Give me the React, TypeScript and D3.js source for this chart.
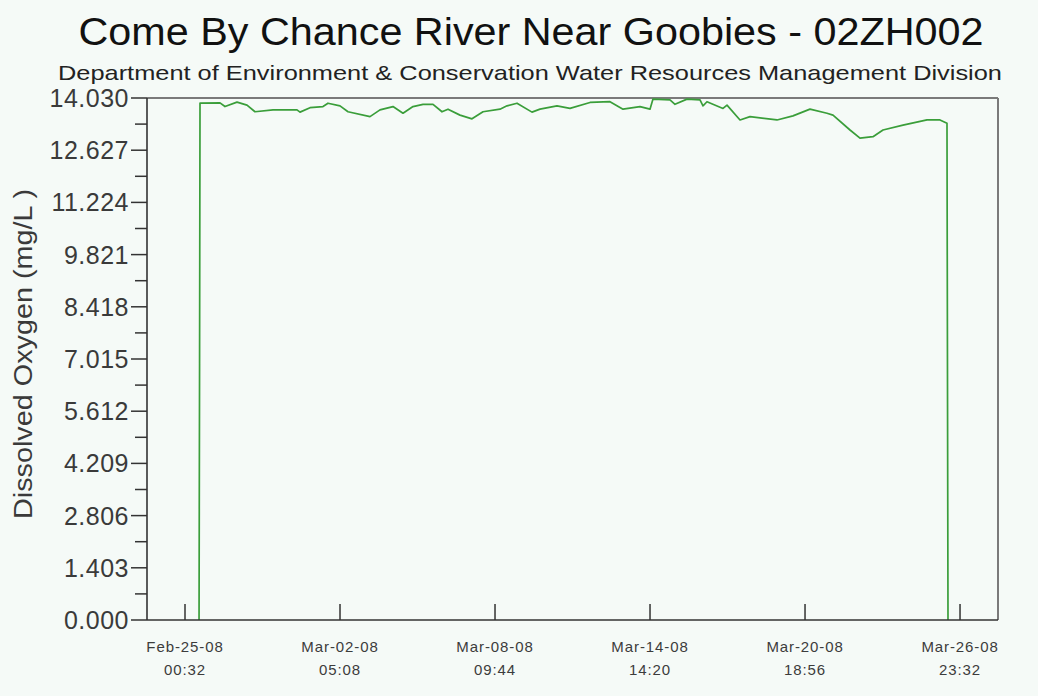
import React from "react";
import * as d3 from "d3";

// Station 02ZH002 dissolved oxygen record (mg/L)
const sampleTimes: string[] = [
  "2008-02-25T14:00", "2008-02-25T14:30", "2008-02-25T14:55", "2008-02-26T10:05", "2008-02-26T14:53",
  "2008-02-27T02:23", "2008-02-27T11:58", "2008-02-27T19:38", "2008-02-28T12:54", "2008-02-29T11:54",
  "2008-02-29T14:47", "2008-03-01T00:22", "2008-03-01T12:50", "2008-03-01T17:37", "2008-03-02T05:08",
  "2008-03-02T12:48", "2008-03-03T09:53", "2008-03-03T19:28", "2008-03-04T07:56", "2008-03-04T17:31",
  "2008-03-05T03:07", "2008-03-05T12:42", "2008-03-05T22:17", "2008-03-06T06:55", "2008-03-06T12:40",
  "2008-03-07T00:10", "2008-03-07T11:40", "2008-03-07T22:13", "2008-03-08T14:31", "2008-03-08T21:13",
  "2008-03-09T06:49", "2008-03-09T21:11", "2008-03-10T04:52", "2008-03-10T21:09", "2008-03-11T09:37",
  "2008-03-12T04:48", "2008-03-12T23:58", "2008-03-13T12:26", "2008-03-14T04:44", "2008-03-14T14:19",
  "2008-03-14T17:11", "2008-03-15T09:29", "2008-03-15T14:17", "2008-03-16T01:47", "2008-03-16T14:15",
  "2008-03-16T17:07", "2008-03-16T20:57", "2008-03-17T12:18", "2008-03-17T16:08", "2008-03-18T04:36",
  "2008-03-18T14:11", "2008-03-19T16:04", "2008-03-20T07:24", "2008-03-20T23:42", "2008-03-21T16:00",
  "2008-03-21T21:45", "2008-03-22T14:03", "2008-03-22T23:38", "2008-03-23T12:06", "2008-03-23T21:41",
  "2008-03-24T16:51", "2008-03-25T15:52", "2008-03-26T04:20", "2008-03-26T11:02", "2008-03-26T11:30",
  "2008-03-26T12:00",
];

const oxygen: number[] = [
  0, 6.9, 13.89, 13.9, 13.8,
  13.92, 13.84, 13.66, 13.71, 13.71,
  13.65, 13.77, 13.8, 13.89, 13.82,
  13.66, 13.53, 13.71, 13.8, 13.62,
  13.8, 13.86, 13.86, 13.66, 13.73,
  13.57, 13.47, 13.66, 13.73, 13.82,
  13.89, 13.65, 13.73, 13.82, 13.75,
  13.91, 13.93, 13.73, 13.8, 13.73,
  14.0, 13.98, 13.86, 14.0, 13.98,
  13.82, 13.93, 13.75, 13.84, 13.44,
  13.53, 13.44, 13.55, 13.73, 13.62,
  13.57, 13.17, 12.95, 12.99, 13.17,
  13.3, 13.44, 13.44, 13.35, 6.6,
  0,
];

const xTickTimes: string[] = [
  "2008-02-25T00:32", "2008-03-02T05:08", "2008-03-08T09:44",
  "2008-03-14T14:20", "2008-03-20T18:56", "2008-03-26T23:32",
];

const yMax = 14.03;
const yStep = 1.403;
const yTickValues: number[] = d3.range(0, 11).map((i) => +(i * yStep).toFixed(3));
const yMinorValues: number[] = d3.range(0, 10).map((i) => (i + 0.5) * yStep);

const title = "Come By Chance River Near Goobies - 02ZH002";
const subtitle = "Department of Environment & Conservation Water Resources Management Division";
const yLabel = "Dissolved Oxygen (mg/L )";

const W = 1038;
const H = 696;
const plot = { left: 147, right: 998, top: 98, bottom: 620 };
const FONT = "'Liberation Sans', Arial, Helvetica, sans-serif";

const parse = d3.timeParse("%Y-%m-%dT%H:%M");
const fmtDate = d3.timeFormat("%b-%d-%y");
const fmtTime = d3.timeFormat("%H:%M");

export default function App() {
  const x = d3
    .scaleTime()
    .domain([parse("2008-02-23T12:06")!, parse("2008-03-28T11:56")!])
    .range([plot.left, plot.right]);
  const y = d3.scaleLinear().domain([0, yMax]).range([plot.bottom, plot.top]);

  const points = sampleTimes.map((t, i) => ({ t: parse(t)!, v: oxygen[i] }));
  const line = d3
    .line<{ t: Date; v: number }>()
    .x((d) => x(d.t))
    .y((d) => y(d.v));

  const xTicks = xTickTimes.map((t) => parse(t)!);

  return (
    <svg
      width={W}
      height={H}
      style={{ position: "absolute", left: 0, top: 0, display: "block" }}
      fontFamily={FONT}
    >
      <rect x={0} y={0} width={W} height={H} fill="#f5faf7" />

      <text x={531} y={45} textAnchor="middle" fontSize={38} fill="#111" textLength={905} lengthAdjust="spacingAndGlyphs">
        {title}
      </text>
      <text x={530} y={80} textAnchor="middle" fontSize={21} fill="#222" textLength={944} lengthAdjust="spacingAndGlyphs">
        {subtitle}
      </text>

      {/* frame: top and right edges */}
      <line x1={plot.left} x2={plot.right} y1={plot.top} y2={plot.top} stroke="#7a7a7a" strokeWidth={2} />
      <line x1={plot.right} x2={plot.right} y1={plot.top} y2={plot.bottom} stroke="#7a7a7a" strokeWidth={2} />

      {/* data */}
      <path d={line(points) ?? ""} fill="none" stroke="#3a9e3a" strokeWidth={1.7} strokeLinejoin="round" />

      {/* y axis */}
      <line x1={plot.left} x2={plot.left} y1={plot.top} y2={plot.bottom} stroke="#333" strokeWidth={1.6} />
      {yMinorValues.map((v) => (
        <line key={"m" + v} x1={plot.left - 12} x2={plot.left} y1={y(v)} y2={y(v)} stroke="#333" strokeWidth={1.5} />
      ))}
      {yTickValues.map((v) => (
        <g key={"y" + v}>
          <line x1={plot.left - 16} x2={plot.left} y1={y(v)} y2={y(v)} stroke="#333" strokeWidth={1.5} />
          <text x={129} y={y(v)} dy="0.36em" textAnchor="end" fontSize={25} fill="#3a3a3a" letterSpacing={0.5}>
            {v.toFixed(3)}
          </text>
        </g>
      ))}
      <text
        transform={`translate(32,${354}) rotate(-90)`}
        textAnchor="middle"
        fontSize={25}
        fill="#3a3a3a"
        textLength={330}
        lengthAdjust="spacingAndGlyphs"
      >
        {yLabel}
      </text>

      {/* x axis */}
      <line x1={plot.left} x2={plot.right} y1={plot.bottom} y2={plot.bottom} stroke="#333" strokeWidth={1.6} />
      {xTicks.map((t) => (
        <g key={t.toISOString()}>
          <line x1={x(t)} x2={x(t)} y1={plot.bottom} y2={plot.bottom - 16} stroke="#333" strokeWidth={1.5} />
          <text x={x(t)} y={647} dy="0.36em" textAnchor="middle" fontSize={15} fill="#3c3c3c" letterSpacing={0.9}>
            {fmtDate(t)}
          </text>
          <text x={x(t)} y={670} dy="0.36em" textAnchor="middle" fontSize={15} fill="#3c3c3c" letterSpacing={0.9}>
            {fmtTime(t)}
          </text>
        </g>
      ))}
    </svg>
  );
}
